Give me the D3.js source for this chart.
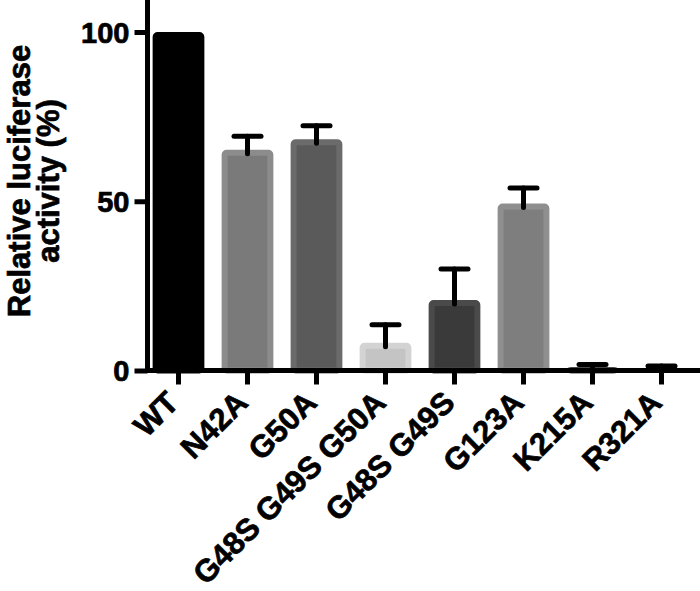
<!doctype html>
<html lang="en">
<head>
<meta charset="utf-8">
<title>Relative luciferase activity</title>
<script src="https://cdn.jsdelivr.net/npm/d3@7"></script>
<style>
  body { margin: 0; background: #fff; }
  text { font-family: "Liberation Sans", Arial, sans-serif; font-weight: bold; }
</style>
</head>
<body>
<script>

// data
var mutants  = ["WT", "N42A", "G50A", "G48S G49S G50A", "G48S G49S", "G123A", "K215A", "R321A"];
var activity = [100, 65.2, 68.3, 8.2, 20.8, 49.3, 1.0, 0.7];
var errUp    = [0, 4.0, 4.0, 5.3, 9.2, 4.6, 0.8, 0.6];
var yTicks   = [0, 50, 100];

// bar shading (inner fill, lighter rim)
var fills = ["#000000", "#7a7a7a", "#5a5a5a", "#c4c4c4", "#3a3a3a", "#7e7e7e", "#3a3a3a", "#3a3a3a"];
var rims  = ["#000000", "#8c8c8c", "#6b6b6b", "#d3d3d3", "#4a4a4a", "#8f8f8f", "#4a4a4a", "#4a4a4a"];

var width = 700, height = 591;
var axisX = 147.5, axisY = 370.5;

var svg = d3.select("body").append("svg")
    .attr("width", width)
    .attr("height", height);

var x = d3.scaleBand()
    .domain(mutants)
    .range([144, 696])
    .paddingInner(0.25)
    .paddingOuter(0.125);

var y = d3.scaleLinear()
    .domain([0, 110])
    .range([axisY, axisY - 110 * 3.385]);

var rows = mutants.map(function(m, i) {
    return { name: m, value: activity[i], err: errUp[i], fill: fills[i], rim: rims[i] };
});

// bars, rim drawn as an inset stroke
var rimW = 6;
svg.selectAll("rect.bar")
    .data(rows)
  .enter().append("rect")
    .attr("class", "bar")
    .attr("x", function(d) { return x(d.name) + rimW / 2; })
    .attr("y", function(d) { return y(d.value) + rimW / 2; })
    .attr("width", x.bandwidth() - rimW)
    .attr("height", function(d) { return Math.max(0, axisY - y(d.value) - rimW / 2); })
    .attr("rx", 2)
    .attr("fill", function(d) { return d.fill; })
    .attr("stroke", function(d) { return d.rim; })
    .attr("stroke-width", rimW);

// error bars (upper only)
var capW = 27;
var eb = svg.selectAll("g.err")
    .data(rows.filter(function(d) { return d.err > 0; }))
  .enter().append("g")
    .attr("class", "err")
    .attr("stroke", "#000")
    .attr("stroke-width", 5)
    .attr("stroke-linecap", "round");

eb.append("line")
    .attr("x1", function(d) { return x(d.name) + x.bandwidth() / 2; })
    .attr("x2", function(d) { return x(d.name) + x.bandwidth() / 2; })
    .attr("y1", function(d) { return y(d.value + d.err); })
    .attr("y2", function(d) { return Math.min(axisY, y(d.value) + 4); });

eb.append("line")
    .attr("x1", function(d) { return x(d.name) + x.bandwidth() / 2 - capW / 2; })
    .attr("x2", function(d) { return x(d.name) + x.bandwidth() / 2 + capW / 2; })
    .attr("y1", function(d) { return y(d.value + d.err); })
    .attr("y2", function(d) { return y(d.value + d.err); });

// y axis
var yAxis = svg.append("g")
    .attr("transform", "translate(" + axisX + ",0)")
    .call(d3.axisLeft(y).tickValues(yTicks).tickSize(13).tickPadding(5).tickSizeOuter(0));

yAxis.select(".domain").remove();
yAxis.append("line")
    .attr("x1", 0).attr("x2", 0)
    .attr("y1", 0).attr("y2", axisY + 2.5)
    .attr("stroke", "#000").attr("stroke-width", 5);

yAxis.selectAll(".tick line").attr("stroke-width", 5);
yAxis.selectAll(".tick text")
    .attr("font-size", 29)
    .attr("fill", "#000")
    .attr("stroke", "#000")
    .attr("stroke-width", 0.7)
    .attr("dy", "0.36em");

// x axis
var xAxis = svg.append("g")
    .attr("transform", "translate(0," + axisY + ")")
    .call(d3.axisBottom(x).tickSize(14).tickSizeOuter(0));

xAxis.select(".domain").remove();
xAxis.append("line")
    .attr("x1", axisX - 2.5).attr("x2", width)
    .attr("y1", 0).attr("y2", 0)
    .attr("stroke", "#000").attr("stroke-width", 5);

xAxis.selectAll(".tick line").attr("stroke-width", 5);
xAxis.selectAll(".tick text")
    .attr("font-size", 31)
    .attr("fill", "#000")
    .attr("stroke", "#000")
    .attr("stroke-width", 0.7)
    .attr("text-anchor", "end")
    .attr("x", 0).attr("y", 0).attr("dy", 0)
    .attr("transform", "translate(2,34) rotate(-45)");

// y axis title, two lines
var title = svg.append("text")
    .attr("transform", "translate(30,181) rotate(-90)")
    .attr("text-anchor", "middle")
    .attr("font-size", 31)
    .attr("fill", "#000")
    .attr("stroke", "#000")
    .attr("stroke-width", 0.7);

title.append("tspan").attr("x", 0).attr("dy", 0).text("Relative luciferase");
title.append("tspan").attr("x", 0).attr("dy", 29).text("activity (%)");

</script>
</body>
</html>
